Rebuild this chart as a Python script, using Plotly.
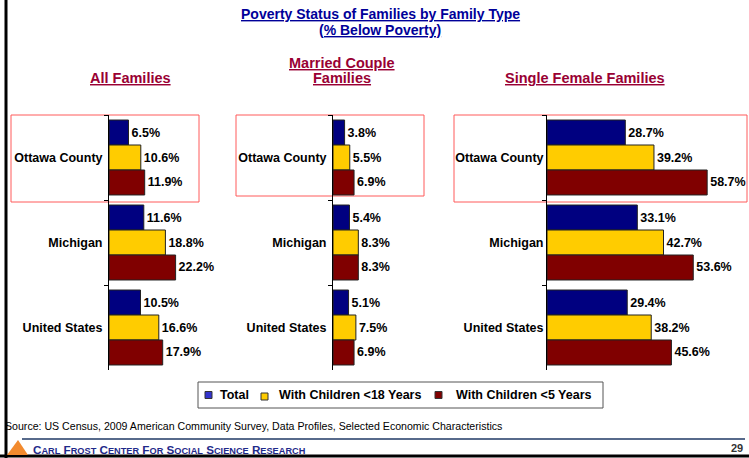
import plotly.graph_objects as go

W, H = 749, 458

# ---------------- data ----------------
regions = ["Ottawa County", "Michigan", "United States"]
series_names = ["Total", "With Children <18 Years", "With Children <5 Years"]

all_total = [6.5, 11.6, 10.5]
all_u18 = [10.6, 18.8, 16.6]
all_u5 = [11.9, 22.2, 17.9]

married_total = [3.8, 5.4, 5.1]
married_u18 = [5.5, 8.3, 7.5]
married_u5 = [6.9, 8.3, 6.9]

single_total = [28.7, 33.1, 29.4]
single_u18 = [39.2, 42.7, 38.2]
single_u5 = [58.7, 53.6, 45.6]

panel_titles = ["All Families", "Married Couple<br>Families", "Single Female Families"]
chart_title = "Poverty Status of Families by Family Type"
chart_subtitle = "(% Below Poverty)"
source_text = "Source: US Census, 2009 American Community Survey, Data Profiles, Selected Economic Characteristics"
footer_name = "Carl Frost Center for Social Science Research"
page_number = "29"

# ---------------- styling ----------------
colors = ["#000080", "#FFCC00", "#800000"]
legend_colors = ["#3333CC", "#FFCC00", "#800000"]
FONT = "Liberation Sans, Arial, sans-serif"


def px_x(p):
    return p / W


def px_y(p):
    return 1 - p / H


panels = [
    (all_total, all_u18, all_u5),
    (married_total, married_u18, married_u5),
    (single_total, single_u18, single_u5),
]
x_domains = [(109, 229), (333, 424.5), (547, 738)]
x_ranges = [[0, 40], [0, 30], [0, 70]]
label_standoff = [3, 3, 0]
y_domain = [px_y(370), px_y(115)]

fig = go.Figure()

for i, (vals_total, vals_u18, vals_u5) in enumerate(panels):
    xa = "x" if i == 0 else f"x{i+1}"
    ya = "y" if i == 0 else f"y{i+1}"
    for j, vals in enumerate([vals_total, vals_u18, vals_u5]):
        fig.add_trace(go.Bar(
            y=regions, x=vals, orientation="h",
            name=series_names[j],
            marker=dict(color=colors[j], line=dict(color="#222222", width=1)),
            text=[f"{v:.1f}%" for v in vals],
            textposition="outside",
            textfont=dict(family=FONT, size=12.5, color="black", weight="bold"),
            constraintext="none",
            cliponaxis=False,
            showlegend=False,
            xaxis=xa, yaxis=ya,
            hoverinfo="skip",
        ))

layout = dict(
    width=W, height=H,
    margin=dict(l=0, r=0, t=0, b=0),
    paper_bgcolor="white", plot_bgcolor="rgba(0,0,0,0)",
    barmode="group", bargap=0.118, bargroupgap=0,
    font=dict(family=FONT, size=12, color="black"),
    showlegend=False,
)

for i in range(3):
    xk = "xaxis" if i == 0 else f"xaxis{i+1}"
    yk = "yaxis" if i == 0 else f"yaxis{i+1}"
    layout[xk] = dict(
        domain=[px_x(x_domains[i][0]), px_x(x_domains[i][1])],
        range=x_ranges[i], visible=False, anchor="y" if i == 0 else f"y{i+1}",
    )
    layout[yk] = dict(
        domain=y_domain, anchor="x" if i == 0 else f"x{i+1}",
        type="category", autorange="reversed",
        showline=True, linecolor="black", linewidth=1,
        ticks="outside", tickson="boundaries", ticklen=4, tickcolor="black",
        ticklabelstandoff=label_standoff[i],
        showgrid=False, zeroline=False,
        tickfont=dict(family=FONT, size=12.5, color="black", weight="bold"),
    )

fig.update_layout(**layout)

# red highlight boxes around Ottawa County
boxes = [(11, 115, 199, 202), (236, 115, 424, 196), (454, 115, 747, 202)]
for (x0, y0, x1, y1) in boxes:
    fig.add_shape(type="rect", xref="paper", yref="paper",
                  x0=px_x(x0), x1=px_x(x1), y0=px_y(y1), y1=px_y(y0),
                  line=dict(color="#FF5A5A", width=1), fillcolor="rgba(0,0,0,0)", layer="below")

# ---------------- legend (drawn) ----------------
fig.add_shape(type="rect", xref="paper", yref="paper",
              x0=px_x(198), x1=px_x(603), y0=px_y(408), y1=px_y(382),
              line=dict(color="#555555", width=1), fillcolor="white")
legend_sym_x = [208.5, 264.5, 438.5]
legend_sym_y = [395, 396.5, 395]
legend_text_x = [218, 277, 454]
for j in range(3):
    cx, cy = legend_sym_x[j], legend_sym_y[j]
    fig.add_shape(type="rect", xref="paper", yref="paper",
                  x0=px_x(cx - 3.5), x1=px_x(cx + 3.5), y0=px_y(cy + 3.5), y1=px_y(cy - 3.5),
                  line=dict(color="#333333", width=1), fillcolor=legend_colors[j])
    fig.add_annotation(text=f"<b>{series_names[j]}</b>", xref="paper", yref="paper",
                       x=px_x(legend_text_x[j]), y=px_y(395), xanchor="left", yanchor="middle",
                       showarrow=False, font=dict(family=FONT, size=12.5, color="black"))

# slide frame: left and bottom borders
fig.add_shape(type="line", xref="paper", yref="paper", x0=px_x(6), x1=px_x(6), y0=0, y1=1,
              line=dict(color="black", width=3))
fig.add_shape(type="line", xref="paper", yref="paper", x0=0, x1=1, y0=px_y(456), y1=px_y(456),
              line=dict(color="black", width=3))
# footer rule
fig.add_shape(type="line", xref="paper", yref="paper", x0=px_x(22), x1=px_x(745),
              y0=px_y(439), y1=px_y(439), line=dict(color="#1F3864", width=1.5))
# logo triangle
fig.add_shape(type="path", xref="paper", yref="paper",
              path=f"M {px_x(7)},{px_y(455)} L {px_x(18)},{px_y(440)} L {px_x(28)},{px_y(455)} Z",
              fillcolor="#F28A2E", line=dict(width=0))

# title (two lines)
for txt, cy in [(chart_title, 14), (chart_subtitle, 30)]:
    fig.add_annotation(
        text=f"<b><u>{txt}</u></b>",
        xref="paper", yref="paper", x=px_x(380), y=px_y(cy), xanchor="center", yanchor="middle",
        showarrow=False, font=dict(family=FONT, size=14, color="#000099"),
    )
# panel titles (one annotation per line, bottom line at y=78)
panel_title_cx = [130, 342, 585]
for t, cx in zip(panel_titles, panel_title_cx):
    lines = t.split("<br>")
    for k, line in enumerate(reversed(lines)):
        fig.add_annotation(
            text=f"<b><u>{line}</u></b>", xref="paper", yref="paper",
            x=px_x(cx), y=px_y(78 - 15 * k), xanchor="center", yanchor="middle",
            showarrow=False, font=dict(family=FONT, size=14.5, color="#990033"),
        )

# source
fig.add_annotation(text=source_text, xref="paper", yref="paper", x=px_x(3), y=px_y(426),
                   xanchor="left", yanchor="middle", showarrow=False,
                   font=dict(family=FONT, size=10.6, color="black"))


def small_caps(s, small=9.2):
    out = []
    for word in s.split(" "):
        out.append(word[0].upper() + f"<span style='font-size:{small}px'>{word[1:].upper()}</span>")
    return " ".join(out)


fig.add_annotation(text="<b>" + small_caps(footer_name) + "</b>",
                   xref="paper", yref="paper", x=px_x(31), y=px_y(449),
                   xanchor="left", yanchor="middle", showarrow=False,
                   font=dict(family=FONT, size=11.7, color="#1F2A8A"))
fig.add_annotation(text=f"<b>{page_number}</b>", xref="paper", yref="paper",
                   x=px_x(745), y=px_y(448), xanchor="right", yanchor="middle", showarrow=False,
                   font=dict(family=FONT, size=11, color="#333333"))

fig.write_html("out.html", config={"displayModeBar": False},
               post_script="document.body.style.margin='0';document.body.style.overflow='hidden';")
